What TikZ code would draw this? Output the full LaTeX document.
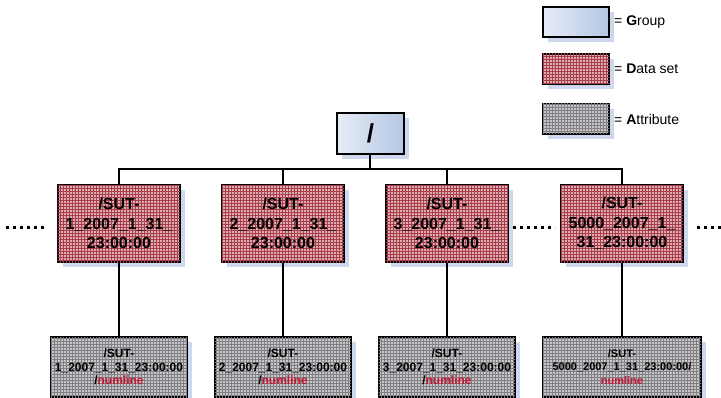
\documentclass[tikz,border=0pt]{standalone}
\usepackage{fontspec}
\setmainfont{Liberation Sans}
\usepackage{tikz}
\usepackage{tikz-qtree}
\usetikzlibrary{positioning,patterns,shadows}

\definecolor{grouptop}{RGB}{230,236,247}
\definecolor{groupbot}{RGB}{180,199,226}
\definecolor{datafill}{RGB}{220,174,180}
\definecolor{datagrid}{RGB}{168,62,74}
\definecolor{attrfill}{RGB}{198,198,200}
\definecolor{attrgrid}{RGB}{128,128,132}
\definecolor{shadowblue}{RGB}{205,215,238}
\definecolor{numred}{RGB}{200,20,50}

\tikzset{
    shd/.style={drop shadow={shadow xshift=5pt, shadow yshift=-5pt, fill=shadowblue, opacity=1}},
    grp/.style={shd, draw, line width=2pt, left color=grouptop, right color=groupbot,
        minimum width=67pt, minimum height=41pt, font=\bfseries\fontsize{26}{28}\selectfont},
    dset/.style={shd, draw, line width=2pt, fill=datafill,
        postaction={pattern=grid, pattern color=datagrid},
        minimum width=122pt, minimum height=77pt, font=\bfseries\fontsize{16}{19.5}\selectfont},
    attr/.style={shd, draw, line width=2pt, fill=attrfill,
        postaction={pattern=grid, pattern color=attrgrid},
        minimum width=136pt, minimum height=60pt, font=\bfseries\fontsize{12}{13.5}\selectfont},
    lgbox/.style={minimum width=66pt, minimum height=30pt, inner sep=0pt},
    lgtext/.style={font=\fontsize{14}{16}\selectfont, inner sep=0pt},
    dots/.style={line width=3pt, dash pattern=on 3pt off 4pt}
}

\begin{document}
\begin{tikzpicture}[x=1pt, y=1pt,
    every tree node/.style={anchor=north, align=center},
    level 1/.style={level distance=72pt},
    level 2/.style={level distance=152pt},
    sibling distance=26pt,
    edge from parent/.style={draw, line width=2pt,
        edge from parent path={(\tikzparentnode.south) -- +(0,-14pt) -| (\tikzchildnode)}}]
    \useasboundingbox (-370.5,112) rectangle (350.5,-286);
    \Tree [.\node[grp](root){/};
        [.\node[dset](ds1){/SUT-\\1\_2007\_1\_31\_\\23:00:00};
            \node[attr](at1){/SUT-\\1\_2007\_1\_31\_23:00:00\\/\textcolor{numred}{numline}}; ]
        [.\node[dset](ds2){/SUT-\\2\_2007\_1\_31\_\\23:00:00};
            \node[attr](at2){/SUT-\\2\_2007\_1\_31\_23:00:00\\/\textcolor{numred}{numline}}; ]
        [.\node[dset](ds3){/SUT-\\3\_2007\_1\_31\_\\23:00:00};
            \node[attr](at3){/SUT-\\3\_2007\_1\_31\_23:00:00\\/\textcolor{numred}{numline}}; ]
        [.\node[dset](ds4){/SUT-\\5000\_2007\_1\_\\31\_23:00:00};
            \node[attr, minimum width=158pt, font=\bfseries\fontsize{11}{13.5}\selectfont](at4){/SUT-\\5000\_2007\_1\_31\_23:00:00/\\\textcolor{numred}{numline}}; ] ]
    % dots between the data sets
    \coordinate (dotsL) at ([shift={(-51pt,-4.5pt)}]ds1.west);
    \coordinate (dotsR) at ([shift={(43pt,-4.5pt)}]ds4.east);
    \draw[dots] (dotsL) -- ([shift={(-11pt,-4.5pt)}]ds1.west);
    \draw[dots] ([shift={(4pt,-4.5pt)}]ds3.east) -- ([shift={(-5pt,-4.5pt)}]ds4.west);
    \draw[dots] ([shift={(13pt,-4.5pt)}]ds4.east) -- (dotsR);
    % legend
    \node[grp, lgbox] (lgGroup) at (205.5,90) {};
    \node[dset, lgbox, below=15pt of lgGroup] (lgData) {};
    \node[attr, lgbox, below=18pt of lgData] (lgAttr) {};
    \node[lgtext, right=4pt of lgGroup] (txGroup) {= \textbf{G}roup};
    \node[lgtext, right=4pt of lgData] (txData) {= \textbf{D}ata set};
    \node[lgtext, right=4pt of lgAttr] (txAttr) {= \textbf{A}ttribute};
\end{tikzpicture}
\end{document}
